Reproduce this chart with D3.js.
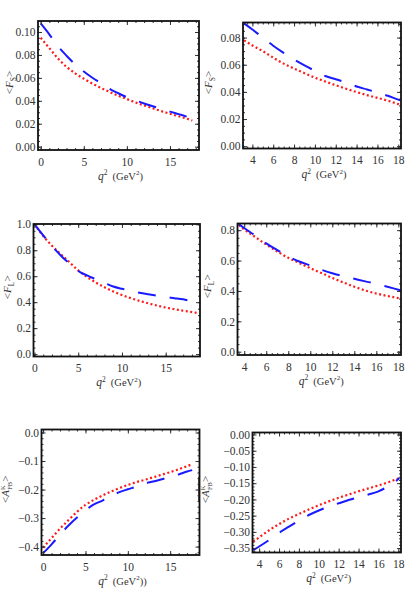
<!DOCTYPE html>
<html>
<head>
<meta charset="utf-8">
<script src="https://cdn.jsdelivr.net/npm/d3@7"></script>
<style>
body { margin: 0; background: #fff; }
svg { display: block; }
text { font-family: "Liberation Serif", "Times New Roman", Times, "DejaVu Serif", serif; fill: #333; }
</style>
</head>
<body>
<script>
// ---- data ----
// <F_S>, first bin range
var fsAQ2 = [0, 1, 2, 3, 4, 5, 6, 7, 8, 9, 10, 11, 12, 13, 14, 15, 16, 17, 17.6];
var fsABlue = [0.1075, 0.098, 0.0877, 0.0793, 0.0718, 0.0655, 0.0601, 0.0553, 0.0504, 0.0466, 0.0432, 0.0404, 0.0377, 0.0353, 0.033, 0.0306, 0.0284, 0.0261, 0.0248];
var fsARed = [0.095, 0.086, 0.077, 0.0696, 0.064, 0.0593, 0.055, 0.0512, 0.0477, 0.0445, 0.0415, 0.0386, 0.036, 0.0335, 0.031, 0.0287, 0.0265, 0.0243, 0.0228];

// <F_S>, second range
var fsBQ2 = [3.2, 4, 5, 6, 7, 8, 9, 10, 11, 12, 13, 14, 15, 16, 17, 18, 18.2];
var fsBBlue = [0.0905, 0.086, 0.08, 0.074, 0.0687, 0.0638, 0.0595, 0.0555, 0.0517, 0.0493, 0.0469, 0.044, 0.0418, 0.0395, 0.0371, 0.0343, 0.0338];
var fsBRed = [0.078, 0.0742, 0.07, 0.0652, 0.0608, 0.0572, 0.0538, 0.0505, 0.0476, 0.0449, 0.0423, 0.0399, 0.0376, 0.0356, 0.0335, 0.031, 0.0305];

// <F_L>, first range
var flAQ2 = [0, 1, 2, 3, 4, 5, 6, 7, 8, 9, 10, 11, 12, 13, 14, 15, 16, 17, 18, 18.8];
var flABlue = [1.0, 0.915, 0.832, 0.76, 0.697, 0.64, 0.606, 0.577, 0.549, 0.521, 0.503, 0.488, 0.473, 0.461, 0.45, 0.439, 0.431, 0.422, 0.405, 0.393];
var flARed = [1.0, 0.91, 0.835, 0.77, 0.708, 0.645, 0.595, 0.552, 0.515, 0.482, 0.455, 0.431, 0.41, 0.391, 0.374, 0.359, 0.346, 0.334, 0.324, 0.315];

// <F_L>, second range
var flBQ2 = [3.5, 4, 5, 6, 7, 8, 9, 10, 11, 12, 13, 14, 15, 16, 17, 18, 18.2];
var flBBlue = [0.84, 0.814, 0.765, 0.713, 0.669, 0.627, 0.594, 0.568, 0.54, 0.516, 0.497, 0.48, 0.463, 0.447, 0.428, 0.408, 0.404];
var flBRed = [0.834, 0.805, 0.755, 0.705, 0.66, 0.618, 0.584, 0.55, 0.518, 0.486, 0.456, 0.428, 0.403, 0.383, 0.367, 0.353, 0.35];

// <A_FB^K>, first range
var afbAQ2 = [0, 1, 2, 3, 4, 5, 6, 7, 8, 9, 10, 11, 12, 13, 14, 15, 16, 17, 17.6];
var afbABlue = [-0.423, -0.392, -0.358, -0.326, -0.298, -0.273, -0.252, -0.239, -0.223, -0.209, -0.199, -0.19, -0.179, -0.172, -0.164, -0.155, -0.147, -0.137, -0.132];
var afbARed = [-0.404, -0.37, -0.337, -0.307, -0.278, -0.254, -0.236, -0.221, -0.207, -0.195, -0.184, -0.174, -0.166, -0.157, -0.148, -0.139, -0.129, -0.118, -0.111];

// <A_FB^K>, second range
var afbBQ2 = [3.4, 4, 5, 6, 7, 8, 9, 10, 11, 12, 13, 14, 15, 16, 17, 18, 18.1];
var afbBBlue = [-0.356, -0.345, -0.325, -0.303, -0.284, -0.265, -0.248, -0.234, -0.222, -0.212, -0.202, -0.193, -0.185, -0.175, -0.159, -0.137, -0.134];
var afbBRed = [-0.33, -0.317, -0.295, -0.276, -0.259, -0.245, -0.231, -0.218, -0.206, -0.195, -0.185, -0.175, -0.166, -0.157, -0.147, -0.136, -0.135];

// tick labels
var xTicksA = [0, 5, 10, 15];
var xTicksB = [4, 6, 8, 10, 12, 14, 16, 18];
var fsATicks = [0, 0.02, 0.04, 0.06, 0.08, 0.10];
var fsBTicks = [0, 0.02, 0.04, 0.06, 0.08];
var flATicks = [0, 0.2, 0.4, 0.6, 0.8, 1.0];
var flBTicks = [0, 0.2, 0.4, 0.6, 0.8];
var afbATicks = [0, -0.1, -0.2, -0.3, -0.4];
var afbBTicks = [0, -0.05, -0.10, -0.15, -0.20, -0.25, -0.30, -0.35];

var width = 405, height = 607;
var serif = "'Liberation Serif', 'Times New Roman', Times, 'DejaVu Serif', serif";

var svg = d3.select("body").append("svg")
    .attr("width", width)
    .attr("height", height);

var panels = [
    { q2: fsAQ2, blue: fsABlue, red: fsARed, left: 38, right: 199, top: 21, bottom: 150,
      xDomain: [-0.31, 18.37], yDomain: [-0.0029, 0.1096], xTicks: xTicksA, xMinor: 1,
      yTicks: fsATicks, yMinor: 0.005, yFmt: ".2f", ylab: "FS", ylabX: 13, xParen: ")" },
    { q2: fsBQ2, blue: fsBBlue, red: fsBRed, left: 243, right: 401, top: 22.5, bottom: 148.5,
      xDomain: [3.1, 18.26], yDomain: [-0.0017, 0.0911], xTicks: xTicksB, xMinor: 0.5,
      yTicks: fsBTicks, yMinor: 0.005, yFmt: ".2f", ylab: "FS", ylabX: 212, xParen: ")" },
    { q2: flAQ2, blue: flABlue, red: flARed, left: 33.5, right: 200, top: 224, bottom: 356.5,
      xDomain: [-0.11, 18.92], yDomain: [-0.0185, 1.0023], xTicks: xTicksA, xMinor: 1,
      yTicks: flATicks, yMinor: 0.05, yFmt: ".1f", ylab: "FL", ylabX: 11, xParen: ")" },
    { q2: flBQ2, blue: flBBlue, red: flBRed, left: 237.5, right: 401, top: 223.5, bottom: 355,
      xDomain: [3.39, 18.24], yDomain: [-0.0217, 0.844], xTicks: xTicksB, xMinor: 0.5,
      yTicks: flBTicks, yMinor: 0.05, yFmt: ".1f", ylab: "FL", ylabX: 211, xParen: ")" },
    { q2: afbAQ2, blue: afbABlue, red: afbARed, left: 41.5, right: 199.5, top: 429.5, bottom: 555,
      xDomain: [-0.19, 18.46], yDomain: [-0.4295, 0.0105], xTicks: xTicksA, xMinor: 1,
      yTicks: afbATicks, yMinor: 0.02, yFmt: ".1f", ylab: "AFB", ylabX: 9, xParen: "))" },
    { q2: afbBQ2, blue: afbBBlue, red: afbBRed, left: 252.5, right: 401, top: 432.5, bottom: 552.5,
      xDomain: [3.33, 18.27], yDomain: [-0.3635, 0.0061], xTicks: xTicksB, xMinor: 0.5,
      yTicks: afbBTicks, yMinor: 0.01, yFmt: ".2f", ylab: "AFB", ylabX: 209, xParen: ")" }
];

panels.forEach(drawPanel);

function range(lo, hi, step) {
    var out = [];
    var start = Math.ceil(lo / step - 1e-9);
    for (var i = start; i * step <= hi + 1e-9; i++) out.push(+(i * step).toFixed(6));
    return out;
}

function drawPanel(p, i) {
    var x = d3.scaleLinear().domain(p.xDomain).range([p.left, p.right]);
    var y = d3.scaleLinear().domain(p.yDomain).range([p.bottom, p.top]);
    var g = svg.append("g");

    g.append("clipPath").attr("id", "clip" + i)
        .append("rect")
        .attr("x", p.left).attr("y", p.top)
        .attr("width", p.right - p.left).attr("height", p.bottom - p.top);

    var line = d3.line()
        .x(function (d) { return x(d[0]); })
        .y(function (d) { return y(d[1]); })
        .curve(d3.curveMonotoneX);

    var plot = g.append("g").attr("clip-path", "url(#clip" + i + ")");

    plot.append("path")
        .attr("d", line(p.q2.map(function (q, k) { return [q, p.red[k]]; })))
        .attr("fill", "none")
        .attr("stroke", "#ff1a1a")
        .attr("stroke-width", 2.2)
        .attr("stroke-dasharray", "2,2.5");

    plot.append("path")
        .attr("d", line(p.q2.map(function (q, k) { return [q, p.blue[k]]; })))
        .attr("fill", "none")
        .attr("stroke", "#1a1aff")
        .attr("stroke-width", 2)
        .attr("stroke-dasharray", "18,14");

    var xMinor = range(p.xDomain[0], p.xDomain[1], p.xMinor);
    var yMinor = range(p.yDomain[0], p.yDomain[1], p.yMinor);
    var fmt = d3.format(p.yFmt);

    // major ticks with labels: bottom and left
    g.append("g").attr("transform", "translate(0," + p.bottom + ")")
        .call(d3.axisBottom(x).tickValues(p.xTicks).tickSize(-4).tickPadding(7.5).tickFormat(d3.format("d")));
    g.append("g").attr("transform", "translate(" + p.left + ",0)")
        .call(d3.axisLeft(y).tickValues(p.yTicks).tickSize(-4).tickPadding(2.5).tickFormat(fmt));
    // top and right ticks
    g.append("g").attr("transform", "translate(0," + p.top + ")")
        .call(d3.axisTop(x).tickValues(p.xTicks).tickSize(-4).tickFormat(""));
    g.append("g").attr("transform", "translate(" + p.right + ",0)")
        .call(d3.axisRight(y).tickValues(p.yTicks).tickSize(-4).tickFormat(""));
    // minor ticks
    g.append("g").attr("transform", "translate(0," + p.bottom + ")")
        .call(d3.axisBottom(x).tickValues(xMinor).tickSize(-2).tickFormat(""));
    g.append("g").attr("transform", "translate(0," + p.top + ")")
        .call(d3.axisTop(x).tickValues(xMinor).tickSize(-2).tickFormat(""));
    g.append("g").attr("transform", "translate(" + p.left + ",0)")
        .call(d3.axisLeft(y).tickValues(yMinor).tickSize(-2).tickFormat(""));
    g.append("g").attr("transform", "translate(" + p.right + ",0)")
        .call(d3.axisRight(y).tickValues(yMinor).tickSize(-2).tickFormat(""));

    g.selectAll(".domain").remove();
    g.selectAll("g").attr("font-family", serif);
    g.selectAll(".tick line").attr("stroke", "#333").attr("stroke-width", 1);
    g.selectAll(".tick text")
        .attr("font-family", serif)
        .style("font-family", serif)
        .style("font-size", "11.5px")
        .attr("fill", "#333");

    g.append("rect")
        .attr("x", p.left).attr("y", p.top)
        .attr("width", p.right - p.left).attr("height", p.bottom - p.top)
        .attr("fill", "none")
        .attr("stroke", "#111")
        .attr("stroke-width", 1.8);

    // x axis title
    var xt = g.append("text")
        .attr("x", (p.left + p.right) / 2 + 2)
        .attr("y", p.bottom + 29.5)
        .attr("text-anchor", "middle")
        .style("font-family", serif)
        .style("font-size", "10.5px");
    xt.append("tspan").style("font-style", "italic").style("font-size", "11.5px").text("q");
    xt.append("tspan").attr("dy", -4.5).style("font-size", "7.5px").text("2");
    xt.append("tspan").attr("dy", 4.5).attr("dx", 5).text("(GeV");
    xt.append("tspan").attr("dy", -4.5).style("font-size", "7px").text("2");
    xt.append("tspan").attr("dy", 4.5).text(p.xParen);

    // y axis title
    var cy = (p.top + p.bottom) / 2 - 3;
    var yg = g.append("g").attr("transform", "translate(" + p.ylabX + "," + cy + ") rotate(-90)");
    var yt = yg.append("text").attr("text-anchor", "middle")
        .style("font-family", serif).style("font-size", "11px");
    if (p.ylab === "AFB") {
        yt.append("tspan").text("<");
        yt.append("tspan").style("font-style", "italic").text("A");
        yt.append("tspan").attr("dy", -4).style("font-size", "6.5px").text("K");
        yt.append("tspan").attr("dx", -4.5).attr("dy", 6.5).style("font-size", "6.5px").text("FB");
        yt.append("tspan").attr("dy", -2.5).text(">");
        var bb = yt.node().getBBox();
        yg.append("line")
            .attr("x1", bb.x + 1).attr("x2", bb.x + bb.width - 1)
            .attr("y1", bb.y - 0.5).attr("y2", bb.y - 0.5)
            .attr("stroke", "#333").attr("stroke-width", 0.9);
    } else {
        yt.append("tspan").text("<");
        yt.append("tspan").style("font-style", "italic").text("F");
        yt.append("tspan").attr("dy", 2.5).style("font-size", "7.5px").text(p.ylab.charAt(1));
        yt.append("tspan").attr("dy", -2.5).text(">");
    }
}
</script>
</body>
</html>
